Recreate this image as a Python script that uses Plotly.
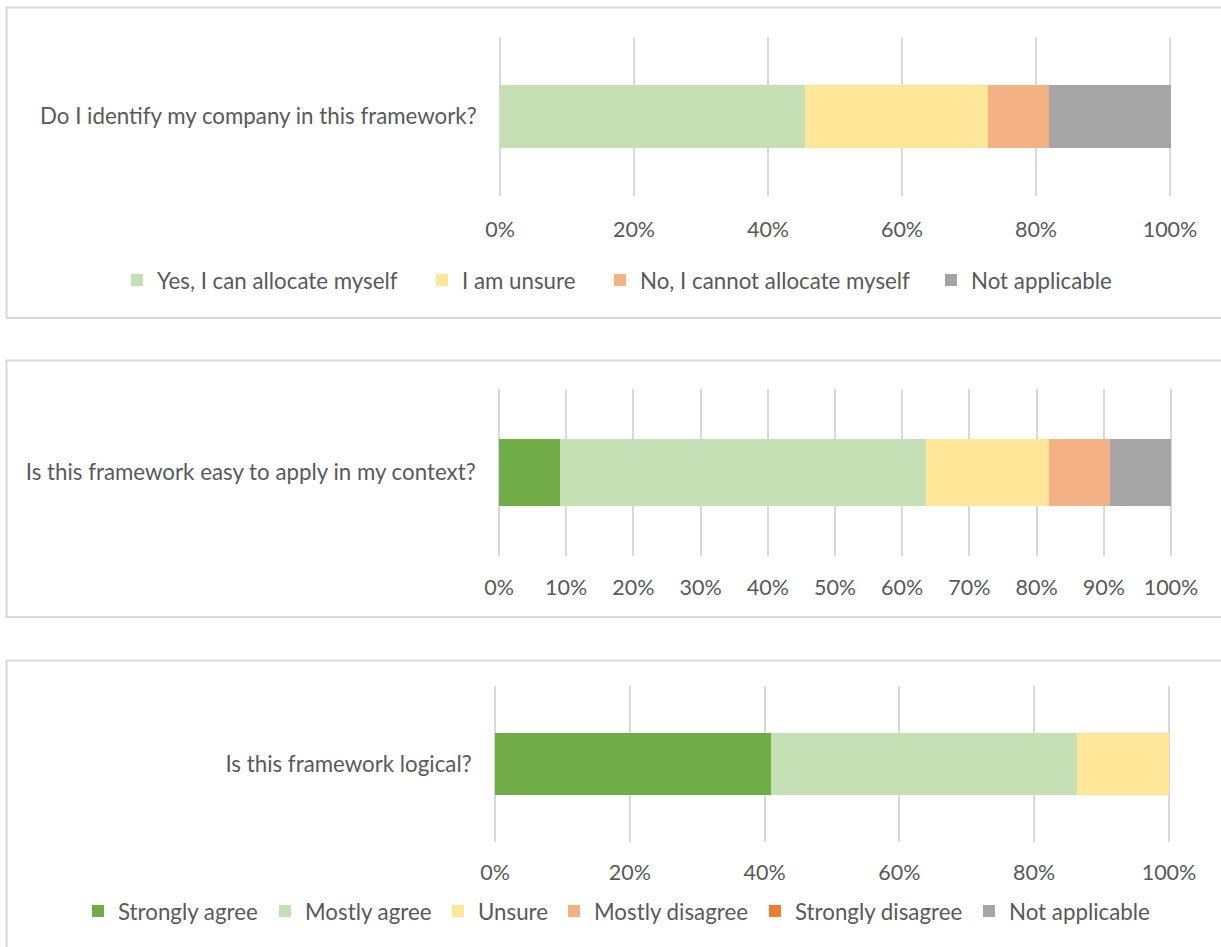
import plotly.graph_objects as go

W, H = 1221, 947

# ---------------- data ----------------
q1_label = ["Do I identify my company in this framework?"]
q1_series = ["Yes, I can allocate myself", "I am unsure", "No, I cannot allocate myself", "Not applicable"]
q1_values = [45.5, 27.3, 9.1, 18.2]

q2_label = ["Is this framework easy to apply in my context?"]
q3_label = ["Is this framework logical?"]
agree_series = ["Strongly agree", "Mostly agree", "Unsure", "Mostly disagree", "Strongly disagree", "Not applicable"]
q2_values = [9.1, 54.5, 18.2, 9.1, 0.0, 9.1]
q3_values = [40.9, 45.5, 13.6, 0.0, 0.0, 0.0]

q1_ticks = [0, 20, 40, 60, 80, 100]
q2_ticks = [0, 10, 20, 30, 40, 50, 60, 70, 80, 90, 100]
q3_ticks = [0, 20, 40, 60, 80, 100]

# ---------------- style ----------------
q1_colors = ["#C5E0B4", "#FFE699", "#F4B183", "#A5A5A5"]
agree_colors = ["#70AD47", "#C5E0B4", "#FFE699", "#F4B183", "#ED7D31", "#A5A5A5"]
FONT = "Lato"
TXT = "#595959"
GRID = "#D9D9D9"
FS = 22.3       # category labels and legend
FS_TICK = 21.5  # percentage tick labels
PAD = 0.5  # range padding (%) so the 0% and 100% gridlines are drawn

# legend entry positions (left edge of swatch, px) and row centre (px)
q1_leg_x = [134, 439, 617, 948]
q1_leg_y = 280
q3_leg_x = [95, 282, 455, 571, 772, 986]
q3_leg_y = 911


def px_x(x):
    return x / W


def px_y(y):
    return 1 - y / H


def xdom(x0, x1):
    span = x1 - x0
    return [px_x(x0 - PAD / 100 * span), px_x(x1 + PAD / 100 * span)]


fig = go.Figure()
legends = {}
leg_i = 1


def new_legend(xpx, ypx):
    global leg_i
    key = "legend" if leg_i == 1 else f"legend{leg_i}"
    leg_i += 1
    legends[key] = dict(orientation="h", x=px_x(xpx - 17), y=px_y(ypx), xanchor="left", yanchor="middle",
                        font=dict(family=FONT, size=FS, color=TXT), bgcolor="rgba(0,0,0,0)",
                        borderwidth=0, itemclick=False, itemdoubleclick=False)
    return key


for name, val, col, lx in zip(q1_series, q1_values, q1_colors, q1_leg_x):
    fig.add_trace(go.Bar(y=q1_label, x=[val], name=name, orientation="h",
                         marker=dict(color=col, line=dict(width=0)),
                         xaxis="x", yaxis="y", legend=new_legend(lx, q1_leg_y), hoverinfo="x+name"))

for name, val, col in zip(agree_series, q2_values, agree_colors):
    fig.add_trace(go.Bar(y=q2_label, x=[val], name=name, orientation="h",
                         marker=dict(color=col, line=dict(width=0)),
                         xaxis="x2", yaxis="y2", showlegend=False, hoverinfo="x+name"))

for name, val, col, lx in zip(agree_series, q3_values, agree_colors, q3_leg_x):
    fig.add_trace(go.Bar(y=q3_label, x=[val], name=name, orientation="h",
                         marker=dict(color=col, line=dict(width=0)),
                         xaxis="x3", yaxis="y3", legend=new_legend(lx, q3_leg_y), hoverinfo="x+name"))


def xaxis(dom, ticks, anchor, standoff):
    return dict(domain=dom, range=[-PAD, 100 + PAD], tickvals=ticks, ticktext=[f"{t}%" for t in ticks],
                showgrid=True, gridcolor=GRID, gridwidth=1.5, zeroline=False, showline=False,
                ticks="", ticklabelstandoff=standoff, tickfont=dict(family=FONT, size=FS_TICK, color=TXT),
                anchor=anchor, fixedrange=True, automargin=False)


def yaxis(dom, anchor):
    return dict(domain=dom, showgrid=False, zeroline=False, showline=False, ticks="",
                ticklabelstandoff=19, tickfont=dict(family=FONT, size=FS, color=TXT),
                anchor=anchor, fixedrange=True, range=[-0.5, 0.5], automargin=False)


fig.update_layout(
    width=W, height=H, autosize=False,
    margin=dict(l=0, r=0, t=0, b=0, pad=0, autoexpand=False),
    paper_bgcolor="white", plot_bgcolor="white",
    barmode="stack", bargap=0.6,
    font=dict(family=FONT, size=FS, color=TXT),
    xaxis=xaxis(xdom(500, 1170), q1_ticks, "y", 18),
    yaxis=yaxis([px_y(196), px_y(37)], "x"),
    xaxis2=xaxis(xdom(499, 1171), q2_ticks, "y2", 16),
    yaxis2=yaxis([px_y(556), px_y(389)], "x2"),
    xaxis3=xaxis(xdom(495, 1169), q3_ticks, "y3", 15),
    yaxis3=yaxis([px_y(842), px_y(686)], "x3"),
    showlegend=True,
    **legends,
)

# panel borders
for (y0, y1) in [(7.5, 318), (360.5, 617), (660.5, 960)]:
    fig.add_shape(type="rect", xref="paper", yref="paper",
                  x0=px_x(6.5), x1=px_x(1240), y0=px_y(y1), y1=px_y(y0),
                  line=dict(color=GRID, width=2), fillcolor="rgba(0,0,0,0)", layer="below")

fig.write_html("out.html", config={"responsive": False, "displayModeBar": False},
               post_script="document.body.style.margin='0';document.body.style.overflow='hidden';")
